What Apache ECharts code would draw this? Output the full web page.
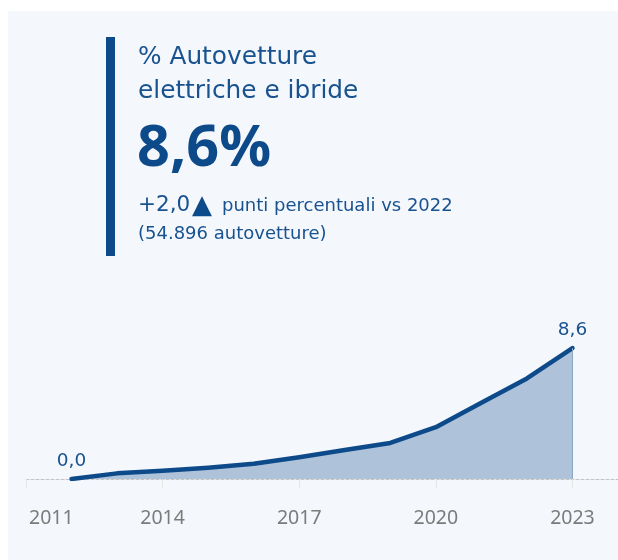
<!DOCTYPE html>
<html>
<head>
<meta charset="utf-8">
<script src="https://cdn.jsdelivr.net/npm/echarts@6/dist/echarts.min.js"></script>
<style>
  html, body { margin: 0; padding: 0; background: #ffffff; }
  #chart { width: 618px; height: 560px; }
</style>
</head>
<body>
<div id="chart"></div>
<script>
// Data
const years = [2012, 2013, 2014, 2015, 2016, 2017, 2018, 2019, 2020, 2021, 2022, 2023];
const share = [0.0, 0.37, 0.54, 0.74, 1.0, 1.43, 1.9, 2.37, 3.4, 5.0, 6.6, 8.6];
const tickYears = [2011, 2014, 2017, 2020, 2023];
const titleLines = ['% Autovetture', 'elettriche e ibride'];
const kpiValue = '8,6%';
const deltaText = '+2,0';
const deltaNote = 'punti percentuali vs 2022';
const countNote = '(54.896 autovetture)';

const blue = '#0d4a8a';
const textBlue = '#18528f';
const fmt = v => v.toFixed(1).replace('.', ',');

const chart = echarts.init(document.getElementById('chart'), null, { renderer: 'canvas' });
const lastIdx = share.length - 1;

chart.setOption({
  backgroundColor: '#ffffff',
  animation: false,
  graphic: [
    { type: 'rect', z: -10, shape: { x: 8, y: 11, width: 610, height: 549 }, style: { fill: '#f4f7fc' } },
    { type: 'rect', shape: { x: 106, y: 37, width: 9, height: 219 }, style: { fill: blue } },
    { type: 'text', x: 138, y: 57.5, style: { text: titleLines[0], font: '24.8px "DejaVu Sans"', fill: textBlue, verticalAlign: 'middle' } },
    { type: 'text', x: 138, y: 92, style: { text: titleLines[1], font: '24.8px "DejaVu Sans"', fill: textBlue, verticalAlign: 'middle' } },
    { type: 'text', x: 137, y: 150, style: { text: kpiValue, font: 'bold 57.5px "Noto Sans"', fill: blue, verticalAlign: 'middle' } },
    { type: 'text', x: 138, y: 205.5, style: { text: deltaText, font: '21.5px "DejaVu Sans"', fill: textBlue, verticalAlign: 'middle' } },
    { type: 'text', x: 192, y: 206, style: { text: '\u25B2', font: '26px "DejaVu Sans"', fill: blue, verticalAlign: 'middle' } },
    { type: 'text', x: 222, y: 206.5, style: { text: deltaNote, font: '18px "DejaVu Sans"', fill: textBlue, verticalAlign: 'middle' } },
    { type: 'text', x: 138, y: 234.5, style: { text: countNote, font: '18px "DejaVu Sans"', fill: textBlue, verticalAlign: 'middle' } }
  ],
  grid: { left: 26, right: 0, bottom: 81, height: 152.3, containLabel: false },
  xAxis: [
    {
      type: 'value', min: 2011, max: 2024,
      splitLine: { show: false },
      axisLine: { show: true, onZero: false, lineStyle: { color: '#c4c4c4', width: 1, type: [3, 2] } },
      axisTick: { show: false },
      axisLabel: {
        show: true, customValues: tickYears,
        formatter: v => v === tickYears[0] ? '{f|' + v + '}' : String(v),
        rich: { f: { padding: [0, 0, 0, 3], color: '#7b7b7b', fontFamily: 'Noto Sans', fontSize: 19.5 } },
        margin: 29, color: '#7b7b7b', fontFamily: 'Noto Sans', fontSize: 19.5,
        alignMinLabel: 'left'
      }
    },
    {
      type: 'value', min: 2011, max: 2024, position: 'bottom', offset: 12,
      splitLine: { show: false },
      axisLine: { show: false },
      axisTick: { show: true, customValues: tickYears, length: 9, lineStyle: { color: '#e6e6e6', width: 1 } },
      axisLabel: { show: false }
    }
  ],
  yAxis: {
    type: 'value', min: 0, max: 10,
    show: false, splitLine: { show: false }
  },
  series: [{
    type: 'line',
    data: years.map((y, i) => [y, share[i]]),
    showSymbol: true,
    symbol: 'circle',
    symbolSize: 1,
    itemStyle: { color: 'rgba(0,0,0,0)' },
    lineStyle: { color: blue, width: 4.5, cap: 'round', join: 'round' },
    areaStyle: { color: blue, opacity: 0.3 },
    label: {
      show: true, position: 'top', distance: 8,
      fontFamily: 'DejaVu Sans', fontSize: 18.5, color: textBlue,
      formatter: p => (p.dataIndex === 0 || p.dataIndex === lastIdx) ? fmt(p.value[1]) : ''
    },
    markLine: {
      silent: true, symbol: 'none', label: { show: false },
      lineStyle: { color: '#8ca6c6', width: 1, type: 'solid' },
      data: [[{ coord: [years[lastIdx], 0] }, { coord: [years[lastIdx], share[lastIdx]] }]]
    },
    z: 3
  }]
});
</script>
</body>
</html>
